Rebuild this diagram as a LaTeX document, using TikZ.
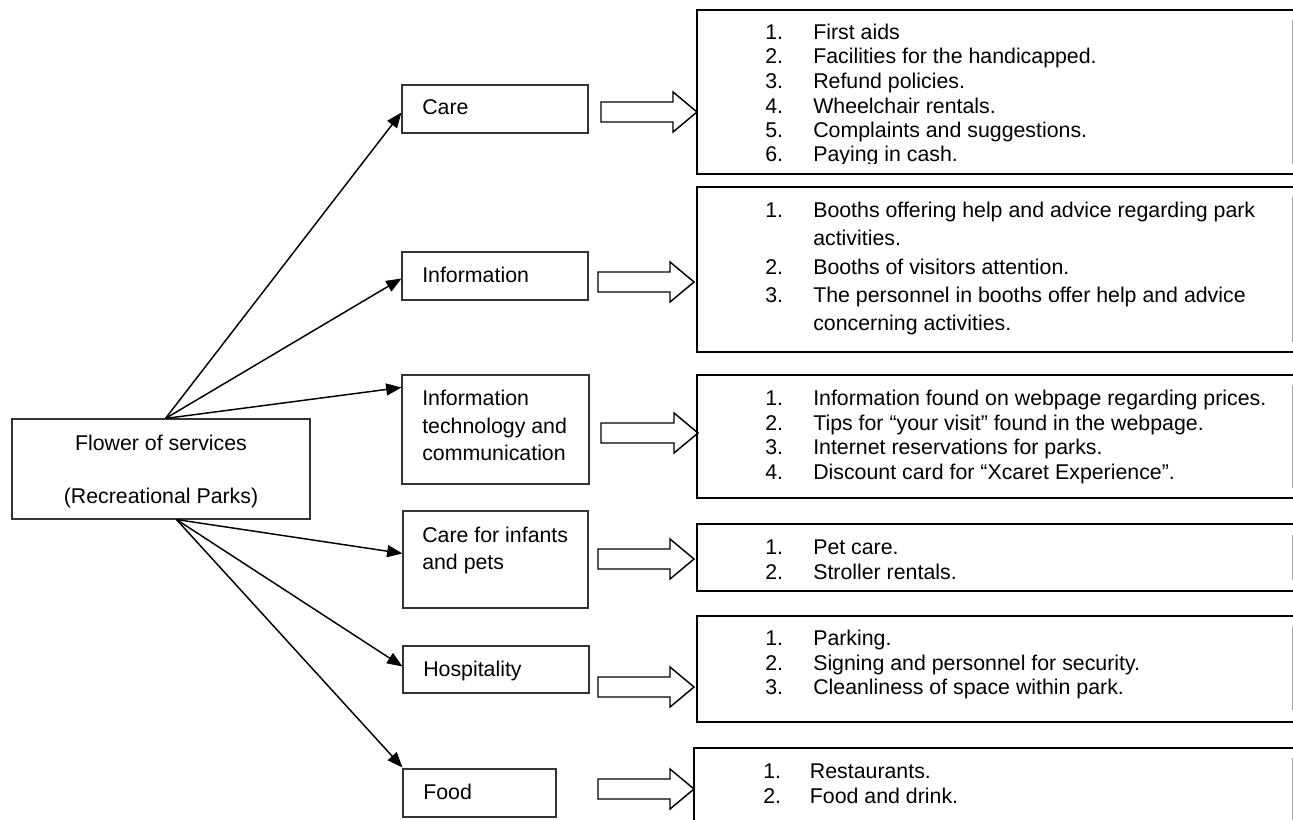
\documentclass[tikz,border=0pt]{standalone}
\usepackage{fontspec}
\setmainfont{Liberation Sans}
\usetikzlibrary{arrows.meta,fit,calc}
\newcommand\itm[2]{\makebox[36pt][l]{#1}#2}
\newcommand\barr[3]{%
  \draw[barrow] ({#1},{#3-10}) -- ({#2-24},{#3-10}) -- ({#2-24},{#3-20}) -- ({#2},{#3})
    -- ({#2-24},{#3+20}) -- ({#2-24},{#3+10}) -- ({#1},{#3+10}) -- cycle;}
\begin{document}
\begin{tikzpicture}[x=0.75pt,y=-0.75pt,
  lbox/.style={draw=black!80, line width=0.8pt, inner sep=0pt},
  rbox/.style={draw=black, line width=1.4pt, inner sep=0pt},
  frame/.style={draw=black!35, line width=0.6pt},
  txt/.style={font=\fontsize{16}{19}\selectfont, inner sep=0pt, anchor=base west},
  ctxt/.style={font=\fontsize{16}{19}\selectfont, inner sep=0pt, anchor=base},
  conn/.style={line width=1.1pt, -{Triangle[length=11.5pt,width=9pt]}},
  barrow/.style={draw=black, line width=1.1pt, line join=miter, fill=white}]
\useasboundingbox (0,0) rectangle (1293,820);

% central box
\node[lbox, fit={(12,419) (310,519)}] (flower) {};
\node[ctxt] (flowerT1) at (161,450) {Flower of services};
\node[ctxt] (flowerT2) at (161,503) {(Recreational Parks)};

% category boxes
\node[lbox, fit={(402,85) (588,133)}] (care) {};
\node[txt] (careT) at (422,115) {Care};
\node[lbox, fit={(402,252) (588,300)}] (info) {};
\node[txt] (infoT) at (422,282) {Information};
\node[lbox, fit={(402,375) (589,484)}] (itc) {};
\node[txt] (itcT1) at (422,405) {Information};
\node[txt] (itcT2) at (422,433) {technology and};
\node[txt] (itcT3) at (422,460) {communication};
\node[lbox, fit={(403,511) (588,608)}] (inf) {};
\node[txt] (infT1) at (422,542) {Care for infants};
\node[txt] (infT2) at (422,569) {and pets};
\node[lbox, fit={(403,646) (589,693)}] (hosp) {};
\node[txt] (hospT) at (423,676) {Hospitality};
\node[lbox, fit={(403,769) (556,817)}] (food) {};
\node[txt] (foodT) at (423,799) {Food};

% connectors
\coordinate (fu) at ($(flower.north west)+(154,0)$);
\coordinate (fl) at ($(flower.south west)+(165,0)$);
\draw[conn] (fu) -- ($(care.north west)+(0,28)$);
\draw[conn] (fu) -- ($(info.north west)+(0,27)$);
\draw[conn] (fu) -- ($(itc.north west)+(0,13)$);
\draw[conn] (fl) -- ($(inf.north west)+(0,43)$);
\draw[conn] (fl) -- ($(hosp.north west)+(0,21)$);
\draw[conn] (fl) -- ($(food.north west)+(0,-1)$);

% block arrows
\barr{601}{697}{112}
\barr{598}{694}{282}
\barr{601}{698}{433}
\barr{598}{694}{559}
\barr{598}{694}{687}
\barr{598}{694}{789}

% detail boxes
\node[rbox, fit={(697,10) (1310,174)}] (d1) {};
\draw[frame] (1292,20) -- (1292,164);
\node[txt] (d1a) at (765,40) {\itm{1.}{First aids}};
\node[txt] (d1b) at (765,64) {\itm{2.}{Facilities for the handicapped.}};
\node[txt] (d1c) at (765,89) {\itm{3.}{Refund policies.}};
\node[txt] (d1d) at (765,114) {\itm{4.}{Wheelchair rentals.}};
\node[txt] (d1e) at (765,138) {\itm{5.}{Complaints and suggestions.}};
\begin{scope}
\clip (700,140) rectangle (1290,163.5);
\node[txt] (d1f) at (765,162) {\itm{6.}{Paying in cash.}};
\end{scope}

\node[rbox, fit={(697,187) (1310,352)}] (d2) {};
\draw[frame] (1292,197) -- (1292,342);
\node[txt] (d2a) at (765,218) {\itm{1.}{Booths offering help and advice regarding park}};
\node[txt] (d2b) at (813,246) {activities.};
\node[txt] (d2c) at (765,274) {\itm{2.}{Booths of visitors attention.}};
\node[txt] (d2d) at (765,302) {\itm{3.}{The personnel in booths offer help and advice}};
\node[txt] (d2e) at (813,330) {concerning activities.};

\node[rbox, fit={(697,375) (1310,498)}] (d3) {};
\draw[frame] (1292,385) -- (1292,488);
\node[txt] (d3a) at (765,405) {\itm{1.}{Information found on webpage regarding prices.}};
\node[txt] (d3b) at (765,430) {\itm{2.}{Tips for “your visit” found in the webpage.}};
\node[txt] (d3c) at (765,454) {\itm{3.}{Internet reservations for parks.}};
\node[txt] (d3d) at (765,479) {\itm{4.}{Discount card for “Xcaret Experience”.}};

\node[rbox, fit={(697,524) (1310,591)}] (d4) {};
\draw[frame] (1292,535) -- (1292,580);
\node[txt] (d4a) at (765,554) {\itm{1.}{Pet care.}};
\node[txt] (d4b) at (765,579) {\itm{2.}{Stroller rentals.}};

\node[rbox, fit={(697,616) (1310,722)}] (d5) {};
\draw[frame] (1292,627) -- (1292,710);
\node[txt] (d5a) at (765,645) {\itm{1.}{Parking.}};
\node[txt] (d5b) at (765,670) {\itm{2.}{Signing and personnel for security.}};
\node[txt] (d5c) at (765,694) {\itm{3.}{Cleanliness of space within park.}};

\node[rbox, fit={(694,748) (1310,840)}] (d6) {};
\draw[frame] (1292,758) -- (1292,830);
\node[txt] (d6a) at (763,778) {\makebox[35pt][l]{1.}Restaurants.};
\node[txt] (d6b) at (763,803) {\makebox[35pt][l]{2.}Food and drink.};
\end{tikzpicture}
\end{document}
